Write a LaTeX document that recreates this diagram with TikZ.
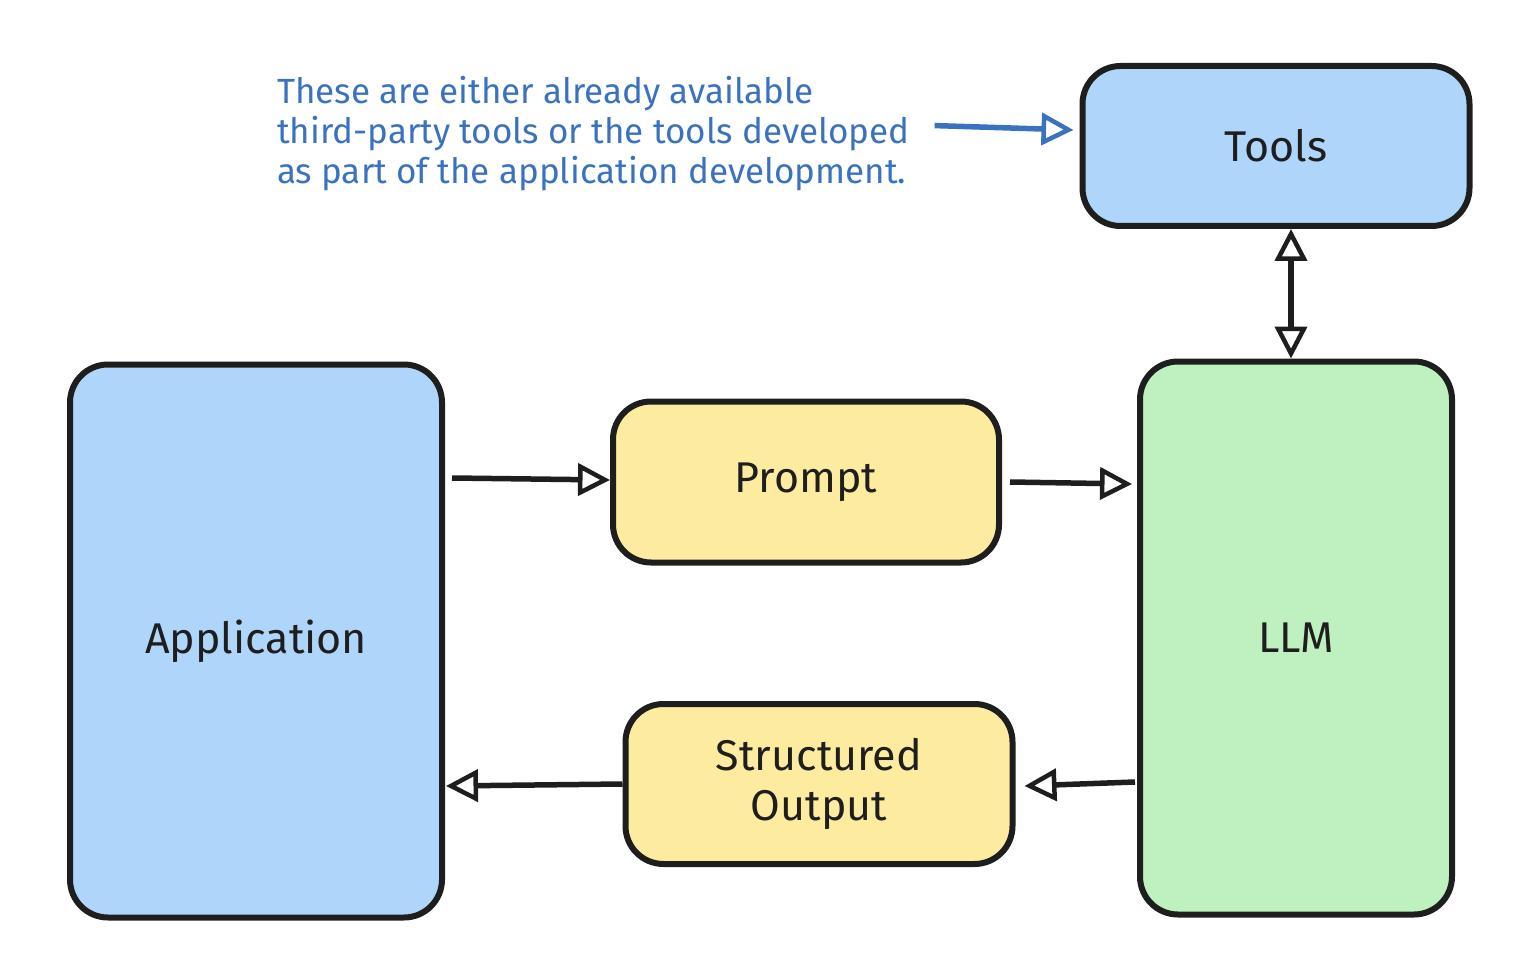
\documentclass[tikz,border=0pt]{standalone}
\usepackage{fontspec}
\setmainfont{Fira Sans}
\usetikzlibrary{arrows.meta}
\definecolor{boxblue}{HTML}{AFD6FA}
\definecolor{boxyellow}{HTML}{FDEC9F}
\definecolor{boxgreen}{HTML}{BFF0C0}
\definecolor{inkblack}{HTML}{1E1E1E}
\definecolor{noteblue}{HTML}{3A72C0}

\begin{document}
\begin{tikzpicture}[x=1pt, y=-1pt,
    block/.style={draw=inkblack, line width=6pt, rounded corners=38pt, inner sep=0pt,
        align=center, text=inkblack, font=\fontsize{43}{50}\selectfont},
    link/.style={draw=inkblack, line width=5.5pt,
        >={Triangle[open, length=32pt, width=32pt, line width=4.5pt]}},
    note/.style={text=noteblue, align=left, inner sep=0pt, font=\fontsize{35}{40}\selectfont}
]
    \useasboundingbox (0,0) rectangle (1532,960);

    \node[block, fill=boxblue, minimum width=387pt, minimum height=160pt] (tools) at (1276,146) {Tools};
    \node[block, fill=boxblue, minimum width=372pt, minimum height=553pt] (app) at (256,641) {Application};
    \node[block, fill=boxyellow, minimum width=386pt, minimum height=161pt] (prompt) at (806,482) {Prompt};
    \node[block, fill=boxyellow, minimum width=387pt, minimum height=160pt] (output) at (819,784) {Structured\\Output};
    \node[block, fill=boxgreen, minimum width=312pt, minimum height=553pt] (llm) at (1296,638) {LLM};

    \node[note, anchor=north west] (note) at (277,76)
        {These are either already available\\third-party tools or the tools developed\\as part of the application development.};

    \draw[link, draw=noteblue, ->] ([xshift=25pt, yshift=8pt]note.east) -- ([xshift=-6pt, yshift=16pt]tools.west);
    \draw[link, <->] ([xshift=15pt]tools.south) -- ([xshift=15pt]tools.south |- llm.north);
    \draw[link, ->] ([xshift=7pt, yshift=4pt]app.east |- prompt.west) -- ([yshift=2pt]prompt.west);
    \draw[link, ->] ([xshift=8pt]prompt.east) -- ([xshift=-5pt, yshift=-2pt]llm.west |- prompt.east);
    \draw[link, ->] ([xshift=-2pt, yshift=2pt]llm.west |- output.east) -- ([xshift=9pt, yshift=-2pt]output.east);
    \draw[link, ->] (output.west) -- ([xshift=1pt, yshift=-2pt]app.east |- output.west);
\end{tikzpicture}
\end{document}
